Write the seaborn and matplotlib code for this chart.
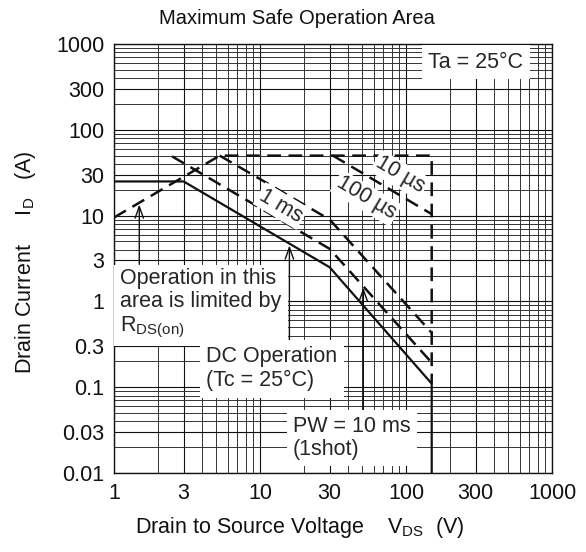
import numpy as np
import pandas as pd
import matplotlib
matplotlib.use('Agg')
import matplotlib.pyplot as plt
import seaborn as sns
from matplotlib.ticker import FixedLocator, LogLocator, NullFormatter, FixedFormatter

sns.set_theme(style='white')
plt.rcParams['font.family'] = ['Liberation Sans', 'DejaVu Sans']
plt.rcParams['mathtext.fontset'] = 'custom'
plt.rcParams['mathtext.rm'] = 'Liberation Sans'
plt.rcParams['mathtext.it'] = 'Liberation Sans:italic'
plt.rcParams['mathtext.default'] = 'regular'

# ---- data ----
x_ticks = [1, 3, 10, 30, 100, 300, 1000]
x_tick_labels = ['1', '3', '10', '30', '100', '300', '1000']
y_ticks = [0.01, 0.03, 0.1, 0.3, 1, 3, 10, 30, 100, 300, 1000]
y_tick_labels = ['0.01', '0.03', '0.1', '0.3', '1', '3', '10', '30', '100', '300', '1000']

# DC operation (solid)
dc_v = [1, 3, 30, 150, 150]
dc_i = [25, 25, 2.5, 0.11, 0.01]
# RDS(on) limit + 10 us outline (dashed)
outline_v = [1, 5.3, 150, 150]
outline_i = [9.5, 50, 50, 0.11]
# 100 us
p100us_v = [31.6, 150]
p100us_i = [50, 10.4]
# 1 ms
p1ms_v = [5.3, 30, 150]
p1ms_i = [50, 9.0, 0.43]
# 10 ms
p10ms_v = [2.5, 30, 150]
p10ms_i = [49, 4.1, 0.193]

W, H = 586, 552
fig = plt.figure(figsize=(W / 100, H / 100), dpi=100)
L, R, T, B = 114, 552, 44, 473
ax = fig.add_axes([L / W, 1 - B / H, (R - L) / W, (B - T) / H])
ax.set_xscale('log')
ax.set_yscale('log')
ax.set_xlim(1, 1000)
ax.set_ylim(0.01, 1000)

ax.xaxis.set_major_locator(FixedLocator(x_ticks))
ax.xaxis.set_major_formatter(FixedFormatter(x_tick_labels))
ax.yaxis.set_major_locator(FixedLocator(y_ticks))
ax.yaxis.set_major_formatter(FixedFormatter(y_tick_labels))
ax.xaxis.set_minor_locator(LogLocator(base=10, subs=(2, 4, 5, 6, 7, 8, 9), numticks=20))
ax.yaxis.set_minor_locator(LogLocator(base=10, subs=(2, 4, 5, 6, 7, 8, 9), numticks=20))
ax.xaxis.set_minor_formatter(NullFormatter())
ax.yaxis.set_minor_formatter(NullFormatter())
ax.grid(which='major', color='#111111', lw=0.8, zorder=0)
ax.grid(which='minor', color='#333333', lw=0.7, zorder=0)
ax.set_axisbelow(True)
fs = 15.5
ax.tick_params(which='both', length=0, labelsize=fs, pad=7, colors='#111111')
for s in ax.spines.values():
    s.set_color('#111111')
    s.set_linewidth(1.0)

dash = (0, (5.5, 3))
sns.lineplot(x=dc_v, y=dc_i, ax=ax, sort=False, estimator=None, color='#111111', lw=1.6, legend=False, zorder=3)
for v, i in [(outline_v, outline_i), (p100us_v, p100us_i), (p1ms_v, p1ms_i), (p10ms_v, p10ms_i)]:
    sns.lineplot(x=v, y=i, ax=ax, sort=False, estimator=None, color='#111111', lw=1.8,
                 linestyle=dash, legend=False, zorder=3)


def px2d(px, py):
    return 10 ** ((px - L) / ((R - L) / 3)), 10 ** ((B - py) / ((B - T) / 5) - 2)


box = dict(boxstyle='square,pad=0.3', fc='white', ec='none')
ax.text(*px2d(476, 62), 'Ta = 25°C', fontsize=fs, ha='center', va='center', bbox=box, zorder=5)
ax.text(*px2d(120, 268), 'Operation in this\narea is limited by\nR$_{DS(on)}$', fontsize=fs,
        ha='left', va='top', linespacing=1.15, bbox=box, zorder=5)
ax.text(*px2d(206, 346), 'DC Operation\n(Tc = 25°C)', fontsize=fs, ha='left', va='top',
        linespacing=1.2, bbox=box, zorder=5)
ax.text(*px2d(293, 416), 'PW = 10 ms\n(1shot)', fontsize=fs, ha='left', va='top',
        linespacing=1.1, bbox=box, zorder=5)
ang = -30.7
sbox = dict(boxstyle='square,pad=0.1', fc='white', ec='none')
ax.text(*px2d(400, 175), '10 µs', fontsize=fs, ha='center', va='center', rotation=ang,
        rotation_mode='anchor', bbox=sbox, zorder=5)
ax.text(*px2d(366, 198), '100 µs', fontsize=fs, ha='center', va='center', rotation=ang,
        rotation_mode='anchor', bbox=sbox, zorder=5)
ax.text(*px2d(281, 206), '1 ms', fontsize=fs, ha='center', va='center', rotation=ang,
        rotation_mode='anchor', bbox=sbox, zorder=5)

arrow = dict(arrowstyle='->,head_length=0.7,head_width=0.25', color='#111111', lw=1.0,
             shrinkA=0, shrinkB=0)
ax.annotate('', xy=(1.49, 13.5), xytext=(1.49, 2.7), arrowprops=arrow, zorder=4)
ax.annotate('', xy=(15.9, 4.5), xytext=(15.9, 0.32), arrowprops=arrow, zorder=4)
ax.annotate('', xy=(51, 1.45), xytext=(51, 0.054), arrowprops=arrow, zorder=4)

fig.text(297 / W, 1 - 18 / H, 'Maximum Safe Operation Area', fontsize=14.5, ha='center', va='center', color='#111111')
fig.text(300 / W, 1 - 528 / H, 'Drain to Source Voltage    V$_{DS}$  (V)', fontsize=fs,
         ha='center', va='center', color='#111111')
fig.text(25 / W, 1 - 262 / H, 'Drain Current     I$_{D}$   (A)', fontsize=fs, rotation=90,
         ha='center', va='center', color='#111111')

fig.savefig('out.png', dpi=100, facecolor='white')
